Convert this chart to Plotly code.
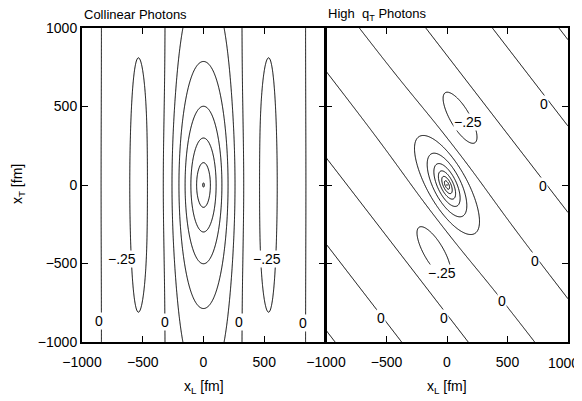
import numpy as np
import plotly.graph_objects as go

# ---------------- data ----------------
GRID_X = np.linspace(-1000, 1000, 401)          # x_L [fm]
GRID_Y = np.linspace(-1000, 1000, 401)          # x_T [fm]

# contour levels drawn in each panel
LEVELS_LEFT = [-0.25, 1.5, 0.25]                # start, end, step
LEVELS_RIGHT = [-0.25, 1.75, 0.25]

# left panel (collinear photons)
LEFT_PHASE = [0.0048655, 1.0552e-9, 0.073, 600.0, 500.0]   # a, c, bend, bend y-width, bend x-width
LEFT_ENV = [1.53, 335.0, 2.1, 1.5, 540.0]                  # amplitude, decay, aspect, aspect growth, growth scale

# right panel (high q_T photons)
RIGHT_WAVE = [550.0]                            # half period of the stripes along x_L + x_T
RIGHT_STRIPE = [0.40, 80.0, 290.0, 900.0]       # amplitude, axis angle, across, along
RIGHT_PEAK = [1.40, -56.0, 130.0, 62.0]         # amplitude, axis angle, along, across

# axis ticks
TICKS = [-1000, -500, 0, 500, 1000]
TICK_TEXT = ["\u22121000", "\u2212500", "0", "500", "1000"]
LEFT_X_TICKS = [-1000, -500, 0, 500]
LEFT_X_TEXT = ["\u22121000", "\u2212500", "0", "500"]
RIGHT_X_TEXT = ["\u22121000", "\u2212500", "0", "500", ""]   # last label drawn separately at the page edge

# contour label positions (x_L, x_T, text)
LEFT_LABELS = [(-857, -866, "0"), (-314, -873, "0"), (295, -873, "0"), (816, -878, "0"),
               (-673, -470, "\u2212.25"), (523, -470, "\u2212.25")]
RIGHT_LABELS = [(804, 515, "0"), (791, -8, "0"), (730, -487, "0"), (455, -741, "0"),
                (-22, -846, "0"), (-545, -846, "0"),
                (171, 399, "\u2212.25"), (-44, -561, "\u2212.25")]

# ---------------- fields ----------------
X, Y = np.meshgrid(GRID_X, GRID_Y)

a, c, beta, by, bx = LEFT_PHASE
A, lam, s0, s1, sg = LEFT_ENV
phase_l = (a * X + c * X ** 3) * (1 - beta * np.exp(-(Y / by) ** 2 - (X / bx) ** 2))
aspect = s0 + s1 * (X / sg) ** 2
rho = np.sqrt(X ** 2 + (Y / aspect) ** 2)
Z_left = np.round(np.cos(phase_l) * A * np.exp(-rho / lam), 5)

k = np.pi / RIGHT_WAVE[0]
U = X + Y
sa, th_s, Lx, Ly = RIGHT_STRIPE
ts = np.deg2rad(th_s)
along_s = X * np.cos(ts) + Y * np.sin(ts)
across_s = -X * np.sin(ts) + Y * np.cos(ts)
S = sa / (1 + (across_s / Lx) ** 2 + (along_s / Ly) ** 2)
p0, th_p, ra, rb = RIGHT_PEAK
tp = np.deg2rad(th_p)
pa = X * np.cos(tp) + Y * np.sin(tp)
pb = -X * np.sin(tp) + Y * np.cos(tp)
R = np.sqrt((pa / ra) ** 2 + (pb / rb) ** 2)
P = p0 * np.exp(-R)
Z_right = np.round(P + S * np.cos(k * U), 5)

FONT = "Liberation Sans"
OFF = 8                      # page body margin of the browser
W, H = 582 - OFF, 401 - OFF


def px(x):
    return (x - OFF) / W


def py(y):
    return (H - (y - OFF)) / H


fig = go.Figure()
fig.add_trace(go.Contour(
    x=GRID_X, y=GRID_Y, z=Z_left, xaxis="x", yaxis="y",
    autocontour=False,
    contours=dict(start=LEVELS_LEFT[0], end=LEVELS_LEFT[1], size=LEVELS_LEFT[2], coloring="none"),
    line=dict(color="black", width=1), showscale=False, hoverinfo="skip"))
fig.add_trace(go.Contour(
    x=GRID_X, y=GRID_Y, z=Z_right, xaxis="x2", yaxis="y2",
    autocontour=False,
    contours=dict(start=LEVELS_RIGHT[0], end=LEVELS_RIGHT[1], size=LEVELS_RIGHT[2], coloring="none"),
    line=dict(color="black", width=1), showscale=False, hoverinfo="skip"))

xl = [px(82), px(325)]
xr = [px(326), px(568)]
yd = [py(342), py(28)]

axis_common = dict(range=[-1000, 1000], showline=True, linecolor="black", linewidth=2,
                   mirror="allticks", ticks="inside", ticklen=6, tickwidth=1.2, tickcolor="black",
                   showgrid=False, zeroline=False, automargin=False, ticklabeloverflow="allow",
                   tickfont=dict(family=FONT, size=14, color="black"))

fig.update_layout(
    template="none",
    width=W, height=H, margin=dict(l=0, r=0, t=0, b=0, pad=0),
    paper_bgcolor="white", plot_bgcolor="white", showlegend=False,
    xaxis=dict(domain=xl, anchor="y", tickvals=LEFT_X_TICKS, ticktext=LEFT_X_TEXT,
               ticklabelstandoff=6, **axis_common),
    yaxis=dict(domain=yd, anchor="x", tickvals=TICKS, ticktext=TICK_TEXT, **axis_common),
    xaxis2=dict(domain=xr, anchor="y2", tickvals=TICKS, ticktext=RIGHT_X_TEXT,
                ticklabelstandoff=6, **axis_common),
    yaxis2=dict(domain=yd, anchor="x2", tickvals=TICKS, showticklabels=False, **axis_common),
)

ann = []
lab_font = dict(family=FONT, size=14, color="black")
for (lx_, ly_, t) in LEFT_LABELS:
    ann.append(dict(x=lx_, y=ly_, xref="x", yref="y", text=t, showarrow=False,
                    font=lab_font, bgcolor="white", borderpad=0))
for (lx_, ly_, t) in RIGHT_LABELS:
    ann.append(dict(x=lx_, y=ly_, xref="x2", yref="y2", text=t, showarrow=False,
                    font=lab_font, bgcolor="white", borderpad=0))
# last tick label of the right axis, kept inside the page
ann.append(dict(x=px(581), y=py(363), xref="paper", yref="paper", xanchor="right", yanchor="middle",
                text=TICK_TEXT[-1], showarrow=False, font=lab_font))
title_font = dict(family=FONT, size=13, color="black")
ann.append(dict(x=px(82), y=py(15), xref="paper", yref="paper", xanchor="left", yanchor="middle",
                text="Collinear Photons", showarrow=False, font=title_font))
ann.append(dict(x=px(326), y=py(15), xref="paper", yref="paper", xanchor="left", yanchor="middle",
                text="High  q<sub>T</sub> Photons", showarrow=False, font=title_font))
ax_font = dict(family=FONT, size=14, color="black")
ann.append(dict(x=px(204), y=py(387), xref="paper", yref="paper", xanchor="center", yanchor="middle",
                text="x<sub>L</sub> [fm]", showarrow=False, font=ax_font))
ann.append(dict(x=px(447), y=py(387), xref="paper", yref="paper", xanchor="center", yanchor="middle",
                text="x<sub>L</sub> [fm]", showarrow=False, font=ax_font))
ann.append(dict(x=px(18), y=py(184), xref="paper", yref="paper", xanchor="center", yanchor="middle",
                text="x<sub>T</sub> [fm]", textangle=-90, showarrow=False, font=ax_font))
fig.update_layout(annotations=ann)

fig.write_html("out.html")
